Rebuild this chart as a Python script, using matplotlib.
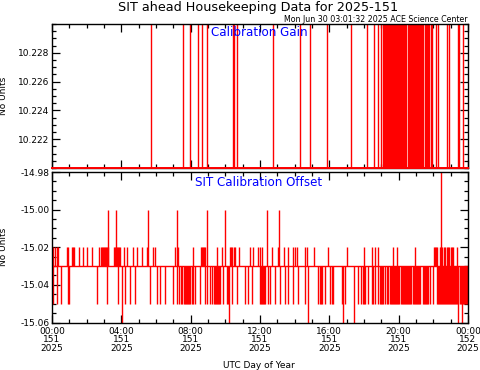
import numpy as np
import matplotlib
matplotlib.use("Agg")
import matplotlib.pyplot as plt
from matplotlib.ticker import MultipleLocator, FormatStrFormatter

# ---- data (hours of day 151) ----
gain_base = 10.220
gain_high = 10.232
gain_spike_hours = [
    5.71, 7.56, 7.96, 8.42, 8.64, 8.93, 10.43, 10.50, 10.66, 12.73, 14.31, 14.88,
    15.88, 17.23, 18.20, 18.59, 18.79, 18.96,
    19.10, 19.15, 19.20, 19.25, 19.30, 19.35, 19.40, 19.45, 19.50, 19.55, 19.60,
    19.65, 19.70, 19.75, 19.80, 19.85, 19.90, 19.95, 20.00, 20.05, 20.10, 20.15,
    20.20, 20.25, 20.30, 20.35, 20.40, 20.55, 20.60, 20.65, 20.70, 20.75, 20.80,
    20.90, 20.95, 21.00, 21.05, 21.10, 21.20, 21.25, 21.30, 21.35, 21.40, 21.50,
    21.55, 21.60, 21.65, 21.70, 21.75, 21.85, 21.90,
    22.15, 22.29, 22.77, 22.90, 23.41, 23.50, 23.73,
]

offset_base = -15.03
# excursions of the offset to each level
offset_m1502_hours = [
    0.00, 0.08, 0.17, 0.31, 0.37, 0.85, 0.94, 1.13, 1.23, 1.29, 1.56, 1.81, 2.04,
    2.33, 2.71, 2.81, 2.90, 2.96, 3.01, 3.06, 3.11, 3.16, 3.21, 3.58, 3.63, 3.70,
    3.75, 3.80, 3.86, 3.92, 4.15, 4.31, 4.65, 4.92, 5.17, 5.46, 5.81, 5.94, 7.10,
    7.29, 8.15, 8.58, 8.63, 8.70, 8.76, 8.83, 9.50, 9.79, 10.27, 10.33, 10.40,
    10.50, 10.56, 10.81, 11.42, 11.62, 11.90, 11.98, 12.10, 12.67, 13.06, 13.38,
    13.63, 13.92, 14.02, 14.12, 14.60, 14.73, 15.12, 15.94, 17.04, 18.02, 18.48,
    18.63, 18.83, 19.65, 19.88, 20.94, 22.04, 22.10, 22.17, 22.23, 22.38, 22.46,
    22.52, 22.60, 22.67, 22.77, 22.85, 22.92, 23.00, 23.06, 23.15, 23.35,
]
offset_m1500_hours = [3.25, 3.67, 5.52, 7.19, 8.96, 9.98, 12.38, 13.12]
offset_m1498_hours = [22.44]
offset_m1505_hours = [
    0.04, 0.27, 0.52, 0.94, 1.00, 2.58, 3.15, 3.83, 4.21, 4.50, 4.79, 5.65, 6.08,
    6.23, 6.52, 6.96, 7.19, 7.30, 7.42, 7.52, 7.60, 7.67, 7.73, 7.79, 7.85, 7.90,
    7.96, 8.06, 8.15, 8.25, 8.54, 8.83, 8.92, 9.12, 9.21, 9.35, 9.40, 9.46, 9.52,
    9.58, 9.64, 9.69, 9.88, 10.08, 10.17, 10.37, 10.66, 11.13, 11.33, 11.56, 12.00,
    12.06, 12.12, 12.18, 12.23, 12.29, 12.48, 12.58, 12.87, 13.15, 13.44, 13.63,
    13.92, 14.21, 14.60, 15.37, 15.44, 15.50, 15.56, 15.75, 16.04, 16.13, 16.23,
    16.71, 16.90, 17.67, 17.81, 17.92, 17.98, 18.06, 18.25, 18.44, 18.52, 18.63,
    18.83, 18.90, 18.98, 19.06, 19.12, 19.21, 19.30, 19.40,
    19.50, 19.56, 19.62, 19.68, 19.74, 19.80, 19.86, 19.92, 19.98, 20.04, 20.12,
    20.18, 20.24, 20.30, 20.36, 20.42, 20.48, 20.54, 20.62, 20.68, 20.74, 20.80,
    20.86, 20.92, 20.98, 21.04, 21.10, 21.16, 21.23, 21.42, 21.48, 21.54, 21.60,
    21.66, 21.72, 21.81, 22.00,
    22.19, 22.25, 22.31, 22.37, 22.43, 22.49, 22.55, 22.61, 22.67, 22.73, 22.79,
    22.85, 22.91, 22.97, 23.03, 23.09, 23.15, 23.21, 23.27, 23.33, 23.39, 23.45,
    23.51, 23.57, 23.63, 23.69, 23.75, 23.81, 23.87, 23.93, 23.99,
]
offset_m1506_hours = [4.02, 10.23, 14.79, 16.77, 17.44, 23.44, 23.67]

xtick_hours = [0, 4, 8, 12, 16, 20, 24]
xtick_labels = ["00:00\n151\n2025", "04:00\n151\n2025", "08:00\n151\n2025",
                "12:00\n151\n2025", "16:00\n151\n2025", "20:00\n151\n2025",
                "00:00\n152\n2025"]

W, H = 481, 370
fig = plt.figure(figsize=(W / 100, H / 100), dpi=100)
plt.rcParams["font.family"] = "DejaVu Sans"

L, R = 52, 468
ax1 = fig.add_axes([L / W, 1 - 168 / H, (R - L) / W, (168 - 24) / H])
ax2 = fig.add_axes([L / W, 1 - 322.5 / H, (R - L) / W, (322.5 - 172) / H])

red = "#ff0000"
lw = 1.0

# top panel: calibration gain
ax1.plot([0, 24], [gain_base, gain_base], color=red, lw=1.4, clip_on=False, zorder=5)
ax1.vlines(gain_spike_hours, gain_base, gain_high, color=red, lw=lw)
ax1.set_ylim(10.2200, 10.2300)
ax1.yaxis.set_major_locator(MultipleLocator(0.002))
ax1.yaxis.set_minor_locator(MultipleLocator(0.0005))
ax1.yaxis.set_major_formatter(FormatStrFormatter("%.3f"))
ax1.set_yticks([10.222, 10.224, 10.226, 10.228])
ax1.set_xticklabels([])

# bottom panel: calibration offset
ax2.plot([0, 24], [offset_base, offset_base], color=red, lw=lw)
for hours, level in [(offset_m1502_hours, -15.02), (offset_m1505_hours, -15.05),
                     (offset_m1500_hours, -15.00), (offset_m1506_hours, -15.06),
                     (offset_m1498_hours, -14.98)]:
    ax2.vlines(hours, offset_base, level, color=red, lw=lw)
ax2.set_ylim(-15.06, -14.98)
ax2.yaxis.set_major_locator(MultipleLocator(0.02))
ax2.yaxis.set_minor_locator(MultipleLocator(0.005))
ax2.yaxis.set_major_formatter(FormatStrFormatter("%.2f"))

for ax in (ax1, ax2):
    ax.set_xlim(0, 24)
    ax.set_xticks(xtick_hours)
    ax.xaxis.set_minor_locator(MultipleLocator(1))
    ax.tick_params(which="both", direction="in", top=True, right=True,
                   labelsize=6.5, width=0.9, colors="black", pad=2)
    ax.tick_params(which="major", length=6)
    ax.tick_params(which="minor", length=3)
    for s in ax.spines.values():
        s.set_linewidth(1.0)
    ax.set_ylabel("No Units", fontsize=6.5)
    ax.yaxis.set_label_coords(-0.106, 0.5)

ax2.set_xticklabels(xtick_labels)
ax2.tick_params(axis="x", pad=3)
for lab in ax2.get_xticklabels():
    lab.set_linespacing(0.95)

fig.text(258 / W, 1 - 7 / H, "SIT ahead Housekeeping Data for 2025-151",
         ha="center", va="center", fontsize=9.2)
fig.text(R / W, 1 - 19.5 / H, "Mon Jun 30 03:01:32 2025 ACE Science Center",
         ha="right", va="center", fontsize=5.7)
fig.text(259 / W, 1 - 33 / H, "Calibration Gain", ha="center", va="center",
         fontsize=8.6, color="blue")
fig.text(259 / W, 1 - 182 / H, "SIT Calibration Offset", ha="center", va="center",
         fontsize=8.6, color="blue")
fig.text(259 / W, 1 - 365 / H, "UTC Day of Year", ha="center", va="center",
         fontsize=6.5)

fig.savefig("out.png", dpi=100)
